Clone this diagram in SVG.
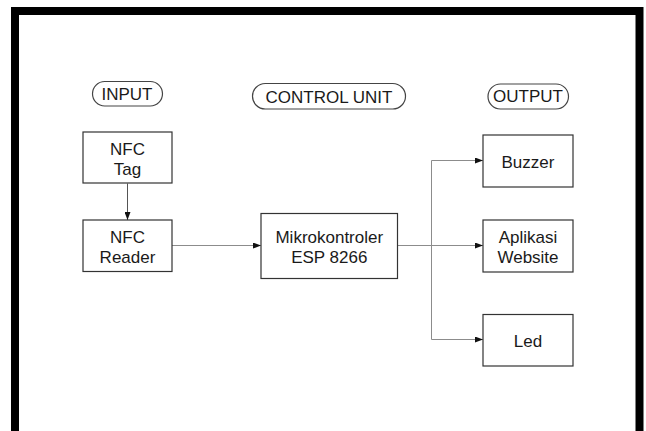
<svg xmlns="http://www.w3.org/2000/svg" width="646" height="431" viewBox="0 0 646 431">
  <defs>
    <marker id="arrow" viewBox="0 0 8 6" refX="8" refY="3" markerWidth="8" markerHeight="6" markerUnits="userSpaceOnUse" orient="auto">
      <path d="M0,0 L8,3 L0,6 Z" fill="#111"/>
    </marker>
    <style>
      .box { fill: #fff; stroke: #333; stroke-width: 1.2; }
      .pill { fill: #fff; stroke: #444; stroke-width: 1.2; }
      .lbl { font-family: "Liberation Sans", Arial, sans-serif; font-size: 17px; fill: #1a1a1a; text-anchor: middle; }
      .wire { fill: none; stroke: #8c8c8c; stroke-width: 1; }
      .wire.dark { stroke: #555; }
    </style>
  </defs>

  <rect width="646" height="431" fill="#fff"/>
  <!-- outer frame -->
  <rect x="15" y="11" width="624.5" height="440" fill="none" stroke="#000" stroke-width="8"/>

  <!-- section headings -->
  <g id="head-input">
    <rect class="pill" x="92.5" y="81.5" width="70" height="24.5" rx="12.25"/>
    <text class="lbl" x="127" y="100">INPUT</text>
  </g>
  <g id="head-control">
    <rect class="pill" x="252.5" y="83.5" width="153" height="25.5" rx="12.75"/>
    <text class="lbl" x="329" y="102.5">CONTROL UNIT</text>
  </g>
  <g id="head-output">
    <rect class="pill" x="488" y="84" width="80.5" height="25" rx="12.5"/>
    <text class="lbl" x="528" y="101.5">OUTPUT</text>
  </g>

  <!-- connectors -->
  <g id="connectors">
    <line class="wire dark" x1="127.5" y1="183.5" x2="127.5" y2="220" marker-end="url(#arrow)"/>
    <line class="wire" x1="172" y1="245.5" x2="261" y2="245.5" marker-end="url(#arrow)"/>
    <line class="wire" x1="397.5" y1="245.5" x2="483" y2="245.5" marker-end="url(#arrow)"/>
    <polyline class="wire" points="483,160.5 431.5,160.5 431.5,339.5 483,339.5"/>
    <line class="wire" x1="470" y1="160.5" x2="483" y2="160.5" marker-end="url(#arrow)"/>
    <line class="wire" x1="470" y1="339.5" x2="483" y2="339.5" marker-end="url(#arrow)"/>
  </g>

  <!-- input blocks -->
  <g id="nfc-tag">
    <rect class="box" x="83" y="132" width="89" height="51"/>
    <text class="lbl" x="127.5" y="155">NFC</text>
    <text class="lbl" x="127.5" y="175">Tag</text>
  </g>
  <g id="nfc-reader">
    <rect class="box" x="83" y="220" width="89" height="51.5"/>
    <text class="lbl" x="127.5" y="243.3">NFC</text>
    <text class="lbl" x="127.5" y="263.3">Reader</text>
  </g>

  <!-- controller -->
  <g id="mcu">
    <rect class="box" x="261" y="213.5" width="136.5" height="65"/>
    <text class="lbl" x="329.3" y="242.7">Mikrokontroler</text>
    <text class="lbl" x="329.3" y="263.3">ESP 8266</text>
  </g>

  <!-- outputs -->
  <g id="buzzer">
    <rect class="box" x="483" y="135" width="90" height="52"/>
    <text class="lbl" x="528" y="167.5">Buzzer</text>
  </g>
  <g id="website">
    <rect class="box" x="483" y="220" width="90" height="52"/>
    <text class="lbl" x="528" y="242.7">Aplikasi</text>
    <text class="lbl" x="528" y="263.3">Website</text>
  </g>
  <g id="led">
    <rect class="box" x="483" y="314.5" width="90" height="51.5"/>
    <text class="lbl" x="528" y="346.7">Led</text>
  </g>
</svg>
